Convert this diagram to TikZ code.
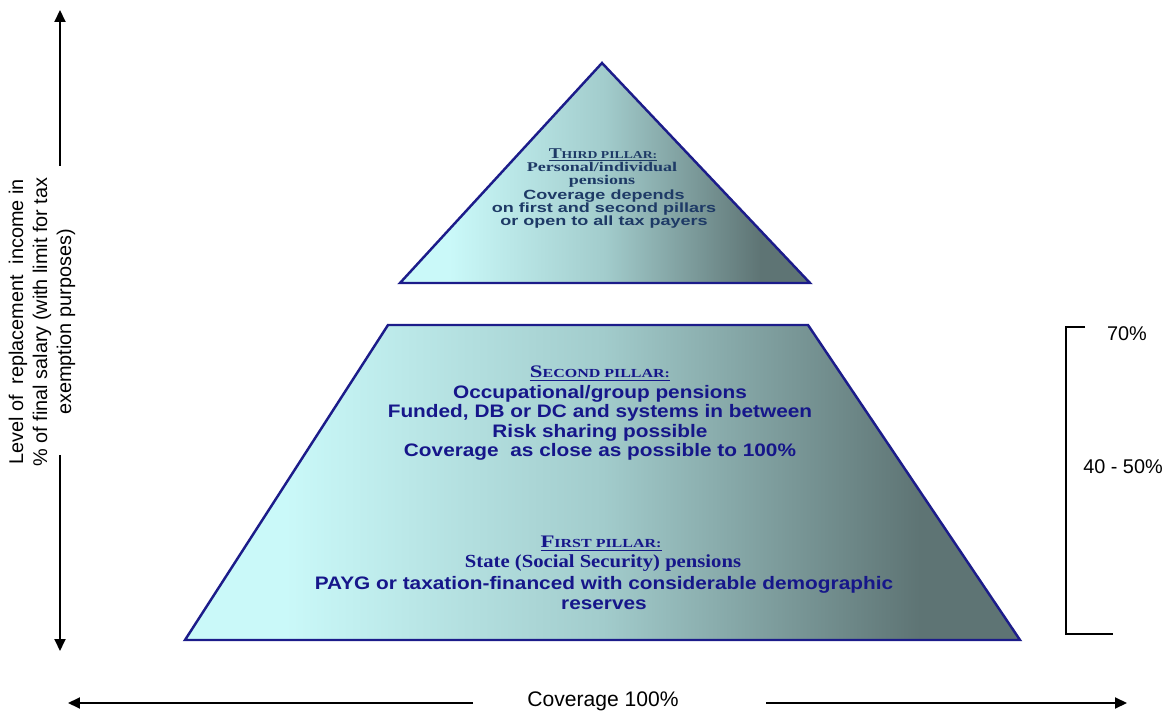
\documentclass[tikz,border=0pt]{standalone}
\usepackage{fontspec}
\setmainfont{Liberation Sans}
\newfontfamily\pillarsans[FakeStretch=1.15]{Liberation Sans}
\newfontfamily\pillarserif[FakeStretch=1.12]{Liberation Serif}
\newfontfamily\topsans[FakeStretch=1.35]{Liberation Sans}
\newfontfamily\topserif[FakeStretch=1.35]{Liberation Serif}
\newfontfamily\pillarcaps[FakeStretch=1.3]{Liberation Serif}
\usetikzlibrary{arrows.meta}

% Colors
\definecolor{pillar_light}{HTML}{CAF9F9}
\definecolor{pillar_mid}{HTML}{A2CCCC}
\definecolor{pillar_dark}{HTML}{5E7474}
\definecolor{edge_navy}{HTML}{1C1C8A}
\definecolor{text_navy}{HTML}{16168A}
\definecolor{text_slate}{HTML}{1E3A66}

\pgfdeclarehorizontalshading{pillarshade}{100bp}{%
    color(0bp)=(pillar_light); color(31bp)=(pillar_light);
    color(50bp)=(pillar_mid); color(69bp)=(pillar_dark);
    color(100bp)=(pillar_dark)}

% underlined heading with hand-made small caps
\newcommand{\pillarhead}[4]{\underline{\pillarcaps\bfseries
    \fontsize{#3}{#3}\selectfont #1\fontsize{#4}{#4}\selectfont #2}}

\begin{document}
\begin{tikzpicture}[
    x=0.02cm, y=-0.02cm,
    >={Triangle[length=0.24cm, width=0.22cm]},
    pillar/.style={
        shading=pillarshade,
        draw=edge_navy,
        line width=1.4pt
    },
    axis/.style={
        ->,
        line width=1.1pt,
        draw=black
    },
    label/.style={
        font=\fontsize{11.3}{13.6}\selectfont,
        align=center,
        inner sep=0pt
    },
    pillarbody/.style={
        font=\pillarsans\bfseries\fontsize{10.3}{11}\selectfont,
        text=text_navy,
        align=center,
        inner sep=0pt
    }
]

\useasboundingbox (0,0) rectangle (1166,712);

% Third pillar (top triangle)
\coordinate (third_top) at (602,63);
\coordinate (third_left) at (400,283);
\coordinate (third_right) at (810,283);
\draw[pillar] (third_top) -- (third_right) -- (third_left) -- cycle;

\node[inner sep=0pt, text=text_slate] (third_head) at (603,155)
    {\pillarhead{T}{HIRD PILLAR:}{8.5}{6}};
\node[inner sep=0pt, align=center, text=text_slate,
      font=\topserif\bfseries\fontsize{7.6}{7.4}\selectfont] (third_kind) at (602,175)
    {Personal/individual\\pensions};
\node[inner sep=0pt, align=center, text=text_slate,
      font=\topsans\bfseries\fontsize{7.6}{7.4}\selectfont] (third_body) at (604,209)
    {Coverage depends\\on first and second pillars\\or open to all tax payers};

% Second and first pillars (bottom trapezoid)
\coordinate (base_tl) at (388,325);
\coordinate (base_tr) at (808,325);
\coordinate (base_br) at (1020,640);
\coordinate (base_bl) at (185,640);
\draw[pillar] (base_tl) -- (base_tr) -- (base_br) -- (base_bl) -- cycle;

\node[inner sep=0pt, text=text_navy] (second_head) at (600,374)
    {\pillarhead{S}{ECOND PILLAR:}{10}{7}};
\node[pillarbody] (second_body) at (600,423)
    {Occupational/group pensions\\
     Funded, DB or DC and systems in between\\
     Risk sharing possible\\
     Coverage\ \ as close as possible to 100\%};

\node[inner sep=0pt, text=text_navy] (first_head) at (601,544)
    {\pillarhead{F}{IRST PILLAR:}{10}{7}};
\node[inner sep=0pt, text=text_navy,
      font=\pillarserif\bfseries\fontsize{10.5}{11}\selectfont] (first_kind) at (603,563)
    {State (Social Security) pensions};
\node[pillarbody, font=\pillarsans\bfseries\fontsize{10.3}{11.3}\selectfont] (first_body) at (604,593)
    {PAYG or taxation-financed with considerable demographic\\reserves};

% Vertical axis
\node[label, rotate=90] (y_label) at (42,322)
    {Level of\ \ replacement\ \ income in\\
     \% of final salary (with limit for tax\\
     exemption purposes)};
\coordinate (y_top) at (60,10);
\coordinate (y_gap_top) at (60,166);
\coordinate (y_gap_bot) at (60,455);
\coordinate (y_bot) at (60,651);
\draw[axis] (y_gap_top) -- (y_top);
\draw[axis] (y_gap_bot) -- (y_bot);

% Horizontal axis
\node[label, font=\fontsize{12}{12}\selectfont] (x_label) at (603,701) {Coverage 100\%};
\coordinate (x_left) at (68,703);
\coordinate (x_gap_left) at (473,703);
\coordinate (x_gap_right) at (766,703);
\coordinate (x_right) at (1127,703);
\draw[axis] (x_gap_left) -- (x_left);
\draw[axis] (x_gap_right) -- (x_right);

% Replacement rate bracket
\coordinate (b_top_end) at (1085,327);
\coordinate (b_top) at (1066,327);
\coordinate (b_bot) at (1066,634);
\coordinate (b_bot_end) at (1113,634);
\draw[line width=0.9pt] (b_top_end) -- (b_top) -- (b_bot) -- (b_bot_end);
\node[label] (rate_high) at (1127,334) {70\%};
\node[label] (rate_mid) at (1123,467) {40 - 50\%};

\end{tikzpicture}
\end{document}
